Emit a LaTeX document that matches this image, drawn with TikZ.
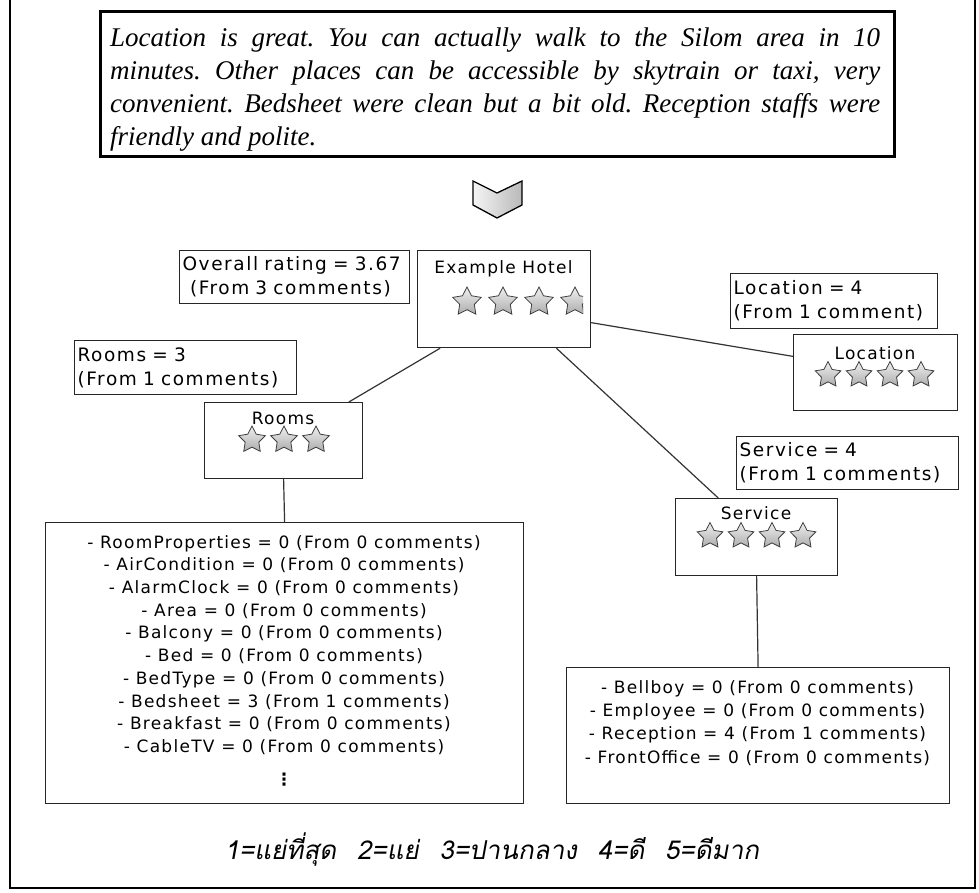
\documentclass[tikz,border=0pt]{standalone}
\usepackage{fontspec}
\setmainfont{Liberation Serif}
\newfontfamily\uifont[LetterSpace=7.5]{DejaVu Sans}
\newfontfamily\tagfont[LetterSpace=8.5]{DejaVu Sans}
\newfontfamily\thaifont[Script=Thai,FakeSlant=0.18]{Loma}
\usetikzlibrary{shapes.geometric,calc}

\tikzset{
  frame/.style={line width=2.4pt, draw=black},
  reviewbox/.style={draw=black, line width=3pt, inner sep=0pt, anchor=north west},
  reviewtext/.style={inner sep=0pt, align=left, font=\frenchspacing\itshape\fontsize{27}{33}\selectfont},
  nodebox/.style={draw=black!85, line width=1.2pt, inner sep=0pt, anchor=north west},
  title/.style={inner sep=0pt, font=\uifont\fontsize{17}{20}\selectfont},
  tag/.style={draw=black!85, line width=1.2pt, inner sep=3pt, anchor=north west, align=left,
    font=\tagfont\fontsize{18.5}{24}\selectfont},
  listtext/.style={inner sep=0pt, align=center, anchor=north},
  link/.style={draw=black!80, line width=1.2pt},
  rate/.style={star, star points=5, star point ratio=1.95, minimum size=#1, inner sep=0pt,
    draw=black!75, line width=0.8pt, top color=gray!12, bottom color=gray!65},
  chevron/.style={draw=black, line width=1.3pt, left color=gray!8, right color=gray!55}
}

\begin{document}
\begin{tikzpicture}[x=1pt,y=-1pt]
\useasboundingbox (0,0) rectangle (979,893);

% page frame
\draw[frame] (10,0) -- (10,888) -- (975,888) -- (975,0);

% review text
\node[reviewbox, fill=white, minimum width=794pt, minimum height=145pt] (reviewbox) at (99,10) {};
\node[reviewtext, anchor=west] (review) at (110,90) {%
\makebox[770pt][s]{Location is great. You can actually walk to the Silom area in 10}\\
\makebox[770pt][s]{minutes. Other places can be accessible by skytrain or taxi, very}\\
\makebox[770pt][s]{convenient. Bedsheet were clean but a bit old. Reception staffs were}\\
friendly and polite.};

% down arrow
\draw[chevron] (473,181) -- (497,193) -- (522,181) -- (522,205) -- (497,218) -- (473,205) -- cycle;

% hotel
\node[nodebox, minimum width=173pt, minimum height=97pt] (hotel) at (417,250) {};
\node[title] (hoteltitle) at (503.5,269) {Example Hotel};
\node[rate=30pt] (h1) at (467,302) {};
\node[rate=30pt] (h2) at (503,302) {};
\node[rate=30pt] (h3) at (539,302) {};
\begin{scope}
  \clip (560,285) rectangle (583,320);
  \node[rate=30pt] (h4) at (575,302) {};
\end{scope}
\node[tag, text width=224pt, minimum height=53pt] (overall) at (179,250)
  {Overall rating = 3.67\\\hspace*{0.4em}(From 3 comments)};

% location
\node[nodebox, minimum width=164pt, minimum height=76pt] (loc) at (793,334) {};
\node[title] (loctitle) at (875,353) {Location};
\node[rate=27pt] (l1) at (828,375) {};
\node[rate=27pt] (l2) at (859,375) {};
\node[rate=27pt] (l3) at (890,375) {};
\node[rate=27pt] (l4) at (921,375) {};
\node[tag, text width=201pt, minimum height=55pt] (loctag) at (730,273)
  {Location = 4\\(From 1 comment)};

% rooms
\node[nodebox, minimum width=158pt, minimum height=76pt] (rooms) at (204,402) {};
\node[title] (roomstitle) at (283,418) {Rooms};
\node[rate=28pt] (r1) at (252,440) {};
\node[rate=28pt] (r2) at (284,440) {};
\node[rate=28pt] (r3) at (316,440) {};
\node[tag, text width=216pt, minimum height=54pt] (roomstag) at (74,340)
  {Rooms = 3\\(From 1 comments)};

% service
\node[nodebox, minimum width=162pt, minimum height=77pt] (service) at (675,498) {};
\node[title] (servicetitle) at (756,513) {Service};
\node[rate=27pt] (s1) at (710,536) {};
\node[rate=27pt] (s2) at (741,536) {};
\node[rate=27pt] (s3) at (772,536) {};
\node[rate=27pt] (s4) at (803,536) {};
\node[tag, text width=216pt, minimum height=53pt] (servicetag) at (736,436)
  {Service = 4\\(From 1 comments)};

% attribute lists
\node[nodebox, minimum width=478pt, minimum height=281pt] (rlist) at (45,522) {};
\node[listtext, font=\uifont\fontsize{17}{22.7}\selectfont] (rlisttext) at (284,535) {%
- RoomProperties = 0 (From 0 comments)\\
- AirCondition = 0 (From 0 comments)\\
- AlarmClock = 0 (From 0 comments)\\
- Area = 0 (From 0 comments)\\
- Balcony = 0 (From 0 comments)\\
- Bed = 0 (From 0 comments)\\
- BedType = 0 (From 0 comments)\\
- Bedsheet = 3 (From 1 comments)\\
- Breakfast = 0 (From 0 comments)\\
- CableTV = 0 (From 0 comments)};
\node[inner sep=0pt, font=\uifont\bfseries\fontsize{17}{20}\selectfont] (rdots) at (284,780) {⋮};

\node[nodebox, minimum width=383pt, minimum height=136pt] (slist) at (566,667) {};
\node[listtext, font=\uifont\fontsize{17}{23.3}\selectfont] (slisttext) at (757.5,680) {%
- Bellboy = 0 (From 0 comments)\\
- Employee = 0 (From 0 comments)\\
- Reception = 4 (From 1 comments)\\
- FrontOffice = 0 (From 0 comments)};

% connectors
\draw[link] ($(hotel.north east)!0.74!(hotel.south east)$) -- ($(loc.north west)!0.29!(loc.south west)$);
\draw[link] ($(hotel.south west)!0.133!(hotel.south east)$) -- ($(rooms.north west)!0.91!(rooms.north east)$);
\draw[link] ($(hotel.south west)!0.80!(hotel.south east)$) -- ($(service.north west)!0.265!(service.north east)$);
\draw[link] (rooms.south) -- (rlist.north);
\draw[link] (service.south) -- (slist.north);

% rating scale
\node[inner sep=0pt, font=\thaifont\fontsize{26}{30}\selectfont] (scale) at (492,850)
  {1=แย่ที่สุด\hspace{0.8em}2=แย่\hspace{0.8em}3=ปานกลาง\hspace{0.8em}4=ดี\hspace{0.8em}5=ดีมาก};
\end{tikzpicture}
\end{document}
